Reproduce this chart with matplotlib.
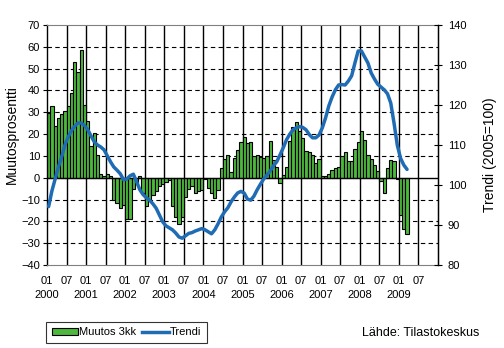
import matplotlib
matplotlib.use("Agg")
import matplotlib.pyplot as plt
import numpy as np
from matplotlib.patches import Patch
from matplotlib.lines import Line2D

plt.rcParams["font.family"] = ["Liberation Sans", "DejaVu Sans"]

# monthly series, 2000-01 .. 2009-03
change_3m = [
    29.5, 33.0, 23.5, 27.5, 29.0, 30.5, 33.0, 39.0, 53.0, 48.5, 58.5, 33.5,   # 2000
    26.0, 14.5, 20.5, 10.5, 1.7, 0.8, 1.7, 1.0, -10.0, -11.5, -14.0, -12.5,  # 2001
    -19.0, -19.0, -5.0, -3.0, 0.8, -7.0, -13.0, -10.0, -8.0, -6.0, -4.0, -3.0,  # 2002
    -2.0, -1.0, -13.0, -18.0, -21.0, -18.0, -9.0, -5.0, -4.0, -7.0, -6.0, -5.5,  # 2003
    -0.5, -4.5, -7.0, -9.5, -5.5, 4.5, 8.7, 10.5, 2.6, 9.0, 12.7, 16.5,  # 2004
    18.8, 16.0, 16.3, 10.0, 10.5, 9.5, 9.0, 9.8, 17.0, 8.0, 5.0, -2.5,  # 2005
    1.2, 5.0, 17.0, 23.3, 25.7, 21.2, 18.3, 12.4, 11.7, 10.6, 6.8, 8.6,  # 2006
    0.8, 0.8, 1.7, 3.7, 4.5, 4.8, 9.8, 12.0, 7.8, 7.8, 13.2, 16.5,  # 2007
    21.2, 17.5, 10.5, 8.4, 5.7, 3.0, -1.4, -7.0, 4.5, 8.2, 7.6, -0.4,  # 2008
    -17.0, -23.5, -25.7,  # 2009
]
trend = [
    94.6, 98.5, 101.5, 104.5, 107.0, 110.0, 112.0, 113.6, 114.7, 115.5, 115.5, 114.9,
    113.8, 112.3, 110.8, 110.0, 109.5, 108.8, 107.3, 105.8, 104.5, 103.7, 102.8, 101.3,
    101.5, 102.3, 102.7, 100.8, 98.8, 97.6, 96.8, 96.2, 95.3, 94.2, 92.5, 90.8,
    89.8, 89.3, 88.8, 88.0, 87.0, 86.7, 87.3, 87.9, 88.1, 88.5, 88.8, 89.1,
    88.8, 88.3, 87.8, 88.8, 90.3, 92.0, 93.3, 94.3, 95.8, 97.0, 98.0, 98.4,
    98.0, 96.5, 96.2, 97.2, 98.8, 100.2, 101.5, 102.5, 103.5, 104.8, 105.8, 107.5,
    109.3, 111.3, 112.7, 113.8, 114.3, 114.6, 114.4, 113.8, 112.6, 111.8, 111.8, 112.5,
    114.3, 116.8, 119.8, 122.0, 123.8, 125.0, 125.1, 125.0, 126.0, 127.3, 130.5, 133.5,
    133.5, 132.0, 130.5, 128.0, 126.5, 125.2, 124.5, 123.8, 122.8, 120.5, 115.5, 110.0,
    106.7, 105.0, 103.9,
]
years = [str(y) for y in range(2000, 2010)]

GREEN = "#4cb83c"
BLUE = "#1f6cb4"

fig = plt.figure(figsize=(5.04, 3.48), dpi=100)
ax = fig.add_axes([47 / 504, 1 - 265 / 348, 391 / 504, 240 / 348])

x = np.arange(len(change_3m)) + 0.5
ax.bar(x, change_3m, width=1.0, color=GREEN, edgecolor="black", linewidth=0.8, zorder=2)

ax.set_xlim(0, 120)
ax.set_ylim(-40, 70)
ax.set_yticks(range(-40, 71, 10))
for v in range(-30, 70, 10):
    if v != 0:
        ax.axhline(v, color="black", lw=0.8, ls=(0, (4, 3)), zorder=1)
ax.axhline(0, color="black", lw=1.0, zorder=3)
for p in range(6, 120, 6):
    ax.axvline(p, color="black", lw=1.0, zorder=1)

ticks = list(range(0, 120, 6))
labels = [f"01\n{years[i // 2]}" if i % 2 == 0 else "07" for i in range(len(ticks))]
ax.set_xticks(ticks)
ax.set_xticklabels(labels, fontsize=8, linespacing=1.5, va="top")
ax.tick_params(axis="x", length=0, pad=8)
ax.tick_params(axis="y", labelsize=8, length=3, width=0.8, pad=2)

for side in ("top", "bottom"):
    ax.spines[side].set_color("#808080")
ax.spines["left"].set_linewidth(1.0)

ax2 = ax.twinx()
ax2.plot(x[: len(trend)], trend, color=BLUE, lw=2.5, solid_capstyle="round", zorder=4)
ax2.set_ylim(80, 140)
ax2.set_yticks(range(80, 141, 10))
ax2.tick_params(axis="y", labelsize=8, length=6, width=0.8, direction="inout", pad=4)
ax2.spines["right"].set_linewidth(1.0)
for side in ("top", "bottom", "left"):
    ax2.spines[side].set_visible(False)

fig.text(12 / 504, 1 - 135 / 348, "Muutosprosentti", rotation=90,
         ha="center", va="center", fontsize=10)
fig.text(490 / 504, 1 - 155 / 348, "Trendi (2005=100)", rotation=90,
         ha="center", va="center", fontsize=10)

handles = [Patch(facecolor=GREEN, edgecolor="black", linewidth=0.8),
           Line2D([], [], color=BLUE, lw=2.5)]
leg = fig.legend(handles, ["Muutos 3kk", "Trendi"], ncol=2, fontsize=8,
                 loc="lower left", bbox_to_anchor=(46 / 504, 5 / 348),
                 frameon=True, fancybox=False, edgecolor="black",
                 handlelength=2.4, handleheight=0.6, handletextpad=0.1,
                 columnspacing=0.5, borderpad=0.5, borderaxespad=0)
leg.get_frame().set_linewidth(0.8)

fig.text(362 / 504, 1 - 333 / 348, "Lähde: Tilastokeskus", ha="left", va="center",
         fontsize=9)

fig.savefig("out.png", dpi=100)
